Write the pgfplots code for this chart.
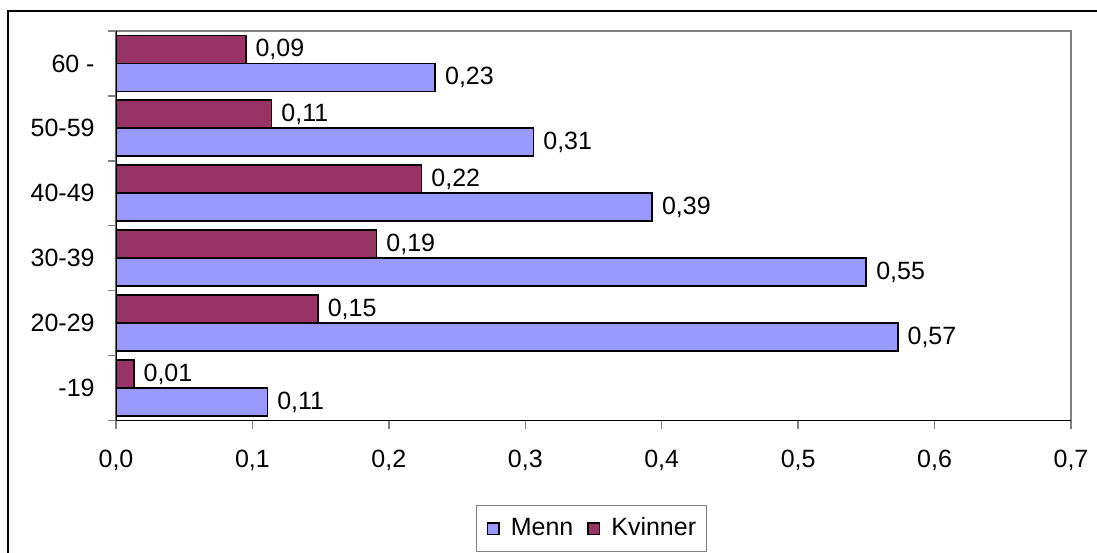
\documentclass[border=0pt]{standalone}
\usepackage{fontspec}
\setmainfont{Liberation Sans}
\usepackage{pgfplots}
\pgfplotsset{compat=1.18}
\usepackage{pgfplotstable}
\definecolor{menn}{HTML}{9999FF}
\definecolor{kvinner}{HTML}{993366}
\definecolor{axgray}{HTML}{808080}
\newcommand{\chartfont}{\fontsize{12.5}{14}\selectfont}

\pgfplotstableread{
y x lab
0 0.111 0,11
1 0.573 0,57
2 0.550 0,55
3 0.393 0,39
4 0.306 0,31
5 0.234 0,23
}\menntab

\pgfplotstableread{
y x lab
0 0.013 0,01
1 0.148 0,15
2 0.191 0,19
3 0.224 0,22
4 0.114 0,11
5 0.095 0,09
}\kvinnertab

\begin{document}
\begin{tikzpicture}
\useasboundingbox (-58pt,-65.75pt) rectangle (490.5pt,210.25pt);
\begin{axis}[
  name=ax, at={(0,0)}, anchor=south west,
  scale only axis, width=477.5pt, height=194.75pt,
  xbar, bar width=14pt,
  xmin=0, xmax=0.7, ymin=-0.5, ymax=5.5,
  xtick={0,0.1,0.2,0.3,0.4,0.5,0.6,0.7},
  ytick={0,1,2,3,4,5},
  yticklabels={-19,20-29,30-39,40-49,50-59,60 -},
  minor ytick={-0.5,0.5,1.5,2.5,3.5,4.5,5.5},
  major y tick style={draw=none},
  tick align=outside,
  major tick length=4pt, minor tick length=4pt,
  xtick pos=bottom, ytick pos=left,
  tick style={axgray, line width=0.7pt},
  axis line style={axgray, line width=0.8pt},
  tick label style={font=\chartfont},
  xticklabel style={inner sep=0pt, anchor=north, yshift=-10.5pt,
    /pgf/number format/fixed, /pgf/number format/fixed zerofill,
    /pgf/number format/precision=1, /pgf/number format/use comma,
    /pgf/number format/assume math mode=true},
  yticklabel style={inner sep=0pt, anchor=east, xshift=-6.5pt},
  legend columns=2,
  legend image code/.code={\draw[#1, draw=black, line width=0.7pt] (0pt,-2.9pt) rectangle (5.8pt,2.9pt);},
  legend style={at={(0.4979,-0.2169)}, anchor=north, draw=axgray, line width=0.7pt,
    font=\chartfont, inner xsep=5.3pt, inner ysep=5.7pt,
    nodes={inner sep=0pt, text height=9pt, text depth=2.6pt},
    /tikz/every odd column/.append style={column sep=5.5pt},
    /tikz/every even column/.append style={column sep=7pt}},
  nodes near coords,
  point meta=explicit symbolic,
  every node near coord/.append style={font=\chartfont, anchor=west, inner sep=0pt, xshift=4.5pt},
]
\addplot[fill=menn, draw=black, line width=0.9pt, bar shift=-7pt] table[x=x, y=y, meta=lab] {\menntab};
\addplot[fill=kvinner, draw=black, line width=0.9pt, bar shift=7pt] table[x=x, y=y, meta=lab] {\kvinnertab};
\legend{Menn, Kvinner}
\draw[black, line width=0.8pt] (rel axis cs:0,0) -- (rel axis cs:0,1);
\draw[black, line width=0.6pt] (rel axis cs:0,0) -- (rel axis cs:1,0);
\end{axis}
\draw[black, line width=1.15pt] (-54pt,-80pt) -- (-54pt,204.75pt) -- (500pt,204.75pt);
\end{tikzpicture}
\end{document}
